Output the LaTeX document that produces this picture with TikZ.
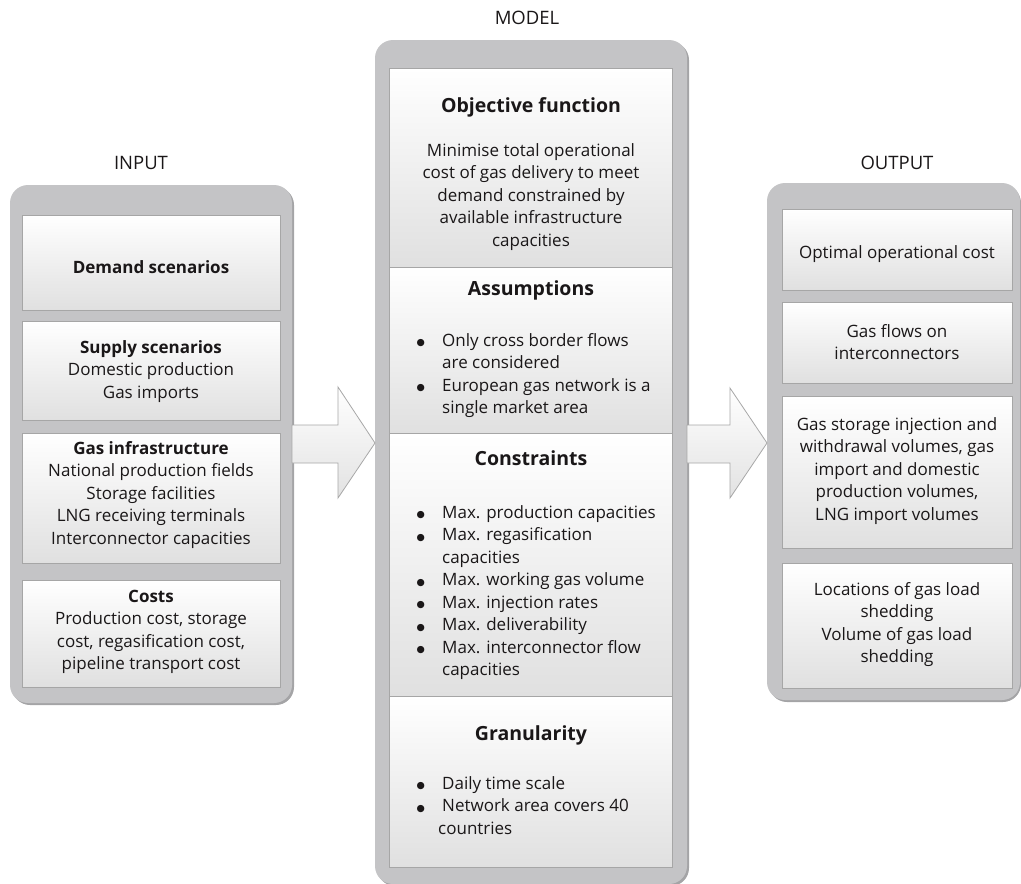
\documentclass[tikz,border=0pt]{standalone}
\usepackage{fontspec}
\setmainfont{Open Sans}
\newfontfamily\symfont{DejaVu Sans}
\usetikzlibrary{shadings}
\definecolor{panelgray}{HTML}{C4C4C6}
\definecolor{panelshadow}{HTML}{A4A4A6}
\definecolor{cellborder}{HTML}{A6A6A6}
\definecolor{cellbot}{HTML}{E0E0E0}
\definecolor{arrowbot}{HTML}{E2E2E2}
\definecolor{arrowline}{HTML}{A8A8A8}
\definecolor{ink}{HTML}{1A1718}
\newcommand{\bodyfont}{\fontsize{17}{22.5}\selectfont}
\newcommand{\headfont}{\fontsize{19.5}{22.5}\selectfont\bfseries}
\newcommand{\bul}{\makebox[27pt][l]{\hspace{1.5pt}\raisebox{0.5pt}{\symfont\fontsize{9.5}{10}\selectfont ●}}}
\tikzset{
  panel/.style={fill=panelgray, rounded corners=18pt, draw=none},
  pshadow/.style={fill=panelshadow, rounded corners=18pt, draw=none},
  cell/.style={draw=cellborder, line width=0.8pt, top color=white, bottom color=cellbot},
  txt/.style={inner sep=0pt, anchor=base, text=ink, font=\bodyfont},
  lst/.style={inner sep=0pt, anchor=base west, text=ink, font=\bodyfont},
  lbl/.style={inner sep=0pt, anchor=base, text=ink, font=\fontsize{18.5}{21}\selectfont},
  blockarrow/.style={draw=arrowline, line width=0.8pt, top color=white, bottom color=arrowbot, line join=miter},
}
\begin{document}
\begin{tikzpicture}[x=1pt,y=-1pt]
\useasboundingbox (0,0) rectangle (1021,884);
% panels
\fill[pshadow] (12,187) rectangle (294,705);
\fill[panel] (10,185) rectangle (292,703);
\fill[pshadow] (377,42) rectangle (689,886);
\fill[panel] (375,40) rectangle (687,884);
\fill[pshadow] (769,185) rectangle (1021,702);
\fill[panel] (767,183) rectangle (1020,700);
\node[inner sep=0pt, minimum width=282pt, minimum height=518pt] (inputpanel) at (151,444) {};
\node[inner sep=0pt, minimum width=312pt, minimum height=844pt] (modelpanel) at (531,462) {};
\node[inner sep=0pt, minimum width=253pt, minimum height=517pt] (outputpanel) at (893.5,441.5) {};
% labels
\node[lbl] (inputlbl) at (141,169) {INPUT};
\node[lbl] (modellbl) at (527,24) {MODEL};
\node[lbl] (outputlbl) at (897,169) {OUTPUT};
% block arrows
\draw[blockarrow] (292,425) -- (338,425) -- (338,387) -- (375,443) -- (338,498) -- (338,463) -- (292,463) -- cycle;
\draw[blockarrow] (687,425) -- (730,425) -- (730,388) -- (767,443) -- (730,498) -- (730,463) -- (687,463) -- cycle;
% input cells
\draw[cell] (22,215) rectangle (280,310);
\draw[cell] (22,321) rectangle (280,420);
\draw[cell] (22,433) rectangle (280,563);
\draw[cell] (22,580) rectangle (280,687);
\node[txt] (demand) at (151,273) {\bfseries Demand scenarios};
\node[txt] (supply) at (151,353) {\begin{tabular}[t]{@{}c@{}}\bfseries Supply scenarios\\Domestic production\\Gas imports\end{tabular}};
\node[txt] (infra) at (151,454) {\begin{tabular}[t]{@{}c@{}}\bfseries Gas infrastructure\\National production fields\\Storage facilities\\LNG receiving terminals\\Interconnector capacities\end{tabular}};
\node[txt] (costs) at (151,602) {\begin{tabular}[t]{@{}c@{}}\bfseries Costs\\Production cost, storage\\cost, regasification cost,\\pipeline transport cost\end{tabular}};
% model sections
\draw[cell] (389,68) rectangle (672,267);
\draw[cell] (389,267) rectangle (672,433);
\draw[cell] (389,433) rectangle (672,696);
\draw[cell] (389,696) rectangle (672,867);
\node[txt, font=\headfont] (objtitle) at (531,112) {Objective function};
\node[txt] (objtext) at (531,156) {\begin{tabular}[t]{@{}c@{}}Minimise total operational\\cost of gas delivery to meet\\demand constrained by\\available infrastructure\\capacities\end{tabular}};
\node[txt, font=\headfont] (asstitle) at (531,295) {Assumptions};
\node[lst] (asslist) at (415,346) {\begin{tabular}[t]{@{}l@{}l@{}}\bul&Only cross border flows\\&are considered\\\bul&European gas network is a\\&single market area\end{tabular}};
\node[txt, font=\headfont] (contitle) at (531,465) {Constraints};
\node[lst] (conlist) at (415,518) {\begin{tabular}[t]{@{}l@{}l@{}}\bul&Max. production capacities\\\bul&Max. regasification\\&capacities\\\bul&Max. working gas volume\\\bul&Max. injection rates\\\bul&Max. deliverability\\\bul&Max. interconnector flow\\&capacities\end{tabular}};
\node[txt, font=\headfont] (grantitle) at (531,740) {Granularity};
\node[lst] (granlist) at (415,789) {\begin{tabular}[t]{@{}l@{}l@{}}\bul&Daily time scale\\\bul&Network area covers 40\\&\hspace*{-4pt}countries\end{tabular}};
% output cells
\draw[cell] (782,209) rectangle (1012,290);
\draw[cell] (782,302) rectangle (1012,383);
\draw[cell] (782,396) rectangle (1012,548);
\draw[cell] (782,563) rectangle (1012,688);
\node[txt] (optcost) at (897,258) {Optimal operational cost};
\node[txt] (flows) at (897,337) {\begin{tabular}[t]{@{}c@{}}Gas flows on\\interconnectors\end{tabular}};
\node[txt] (volumes) at (897,430) {\begin{tabular}[t]{@{}c@{}}Gas storage injection and\\withdrawal volumes, gas\\import and domestic\\production volumes,\\LNG import volumes\end{tabular}};
\node[txt] (shedding) at (897,595) {\begin{tabular}[t]{@{}c@{}}Locations of gas load\\shedding\\Volume of gas load\\shedding\end{tabular}};
\end{tikzpicture}
\end{document}
